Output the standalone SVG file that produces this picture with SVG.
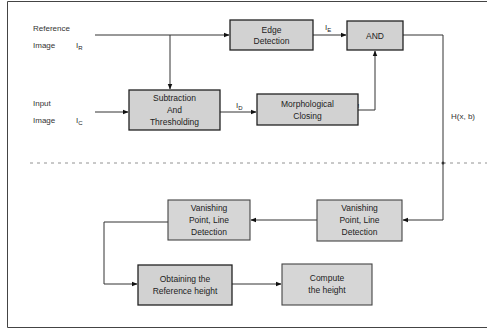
<svg xmlns="http://www.w3.org/2000/svg" width="487" height="331" viewBox="0 0 487 331">
<style>
.box{fill:#d2d2d2;stroke:#222;stroke-width:1.3}
.box2{fill:#d6d6d6;stroke:#444;stroke-width:1.1}
.t{font-family:"Liberation Sans",Arial,sans-serif;font-size:8.5px;fill:#222;text-anchor:middle}
.l{font-family:"Liberation Sans",Arial,sans-serif;font-size:8px;fill:#333}
.s{font-size:6px;fill:#222}
.c{fill:none;stroke:#333;stroke-width:1}
</style>
<defs>
<marker id="a" viewBox="0 0 10 10" refX="9" refY="5" markerWidth="6" markerHeight="6" orient="auto"><path d="M0,1 L10,5 L0,9 z" fill="#111"/></marker>
</defs>
<path d="M487,1.5 H7.5 V327.5 H487" fill="none" stroke="#444" stroke-width="1"/>
<line x1="30" y1="163" x2="487" y2="163" stroke="#777" stroke-width="0.8" stroke-dasharray="3,4"/>
<g id="connectors">
<path class="c" d="M95,35 H229" marker-end="url(#a)"/>
<path class="c" d="M170,35 V89" marker-end="url(#a)"/>
<path class="c" d="M95,112 H128" marker-end="url(#a)"/>
<path class="c" d="M220,112 H256" marker-end="url(#a)"/>
<path class="c" d="M313,35 H346" marker-end="url(#a)"/>
<path class="c" d="M358,110 H375 V51" marker-end="url(#a)"/>
<path class="c" d="M403,35 H443 V220 H403" marker-end="url(#a)"/>
<circle cx="443" cy="163" r="1.5" fill="#333"/>
<path class="c" d="M317,220 H251" marker-end="url(#a)"/>
<path class="c" d="M168,222 H104 V284 H137" marker-end="url(#a)"/>
<path class="c" d="M232,284 H281" marker-end="url(#a)"/>
</g>
<g id="labels">
<text class="l" x="33" y="31">Reference</text>
<text class="l" x="33" y="48">Image</text>
<text class="l" x="76" y="48">I<tspan class="s" dy="2">R</tspan></text>
<text class="l" x="33" y="106">Input</text>
<text class="l" x="33" y="123">Image</text>
<text class="l" x="76" y="123">I<tspan class="s" dy="2">C</tspan></text>
<text class="l" x="236" y="108">I<tspan class="s" dy="2">D</tspan></text>
<text class="l" x="325" y="30">I<tspan class="s" dy="2">E</tspan></text>
<text class="l" x="352" y="106">I<tspan class="s" dy="2">M</tspan></text>
<text class="l" x="451" y="119">H(x, b)</text>
</g>
<g id="edge">
<rect class="box" x="230" y="20" width="83" height="30"/>
<text class="t" x="271.5" y="33">Edge</text>
<text class="t" x="271.5" y="44">Detection</text>
</g>
<g id="and">
<rect class="box" x="347" y="21" width="56" height="29"/>
<text class="t" x="375" y="38.5">AND</text>
</g>
<g id="subtraction">
<rect class="box" x="129" y="90" width="91" height="40"/>
<text class="t" x="174.5" y="101">Subtraction</text>
<text class="t" x="174.5" y="113">And</text>
<text class="t" x="174.5" y="125">Thresholding</text>
</g>
<g id="morph">
<rect class="box" x="257" y="94" width="101" height="31"/>
<text class="t" x="307.5" y="107">Morphological</text>
<text class="t" x="307.5" y="119">Closing</text>
</g>
<g id="vanish1">
<rect class="box2" x="317" y="200" width="85" height="41"/>
<text class="t" x="359.5" y="211">Vanishing</text>
<text class="t" x="359.5" y="223">Point, Line</text>
<text class="t" x="359.5" y="235">Detection</text>
</g>
<g id="vanish2">
<rect class="box2" x="168" y="200" width="82" height="40"/>
<text class="t" x="209" y="211">Vanishing</text>
<text class="t" x="209" y="223">Point, Line</text>
<text class="t" x="209" y="235">Detection</text>
</g>
<g id="obtain">
<rect class="box" x="138" y="265" width="94" height="40"/>
<text class="t" x="185" y="282">Obtaining the</text>
<text class="t" x="185" y="294">Reference height</text>
</g>
<g id="compute">
<rect class="box2" x="282" y="264" width="90" height="41"/>
<text class="t" x="327" y="281">Compute</text>
<text class="t" x="327" y="293">the height</text>
</g>
</svg>
